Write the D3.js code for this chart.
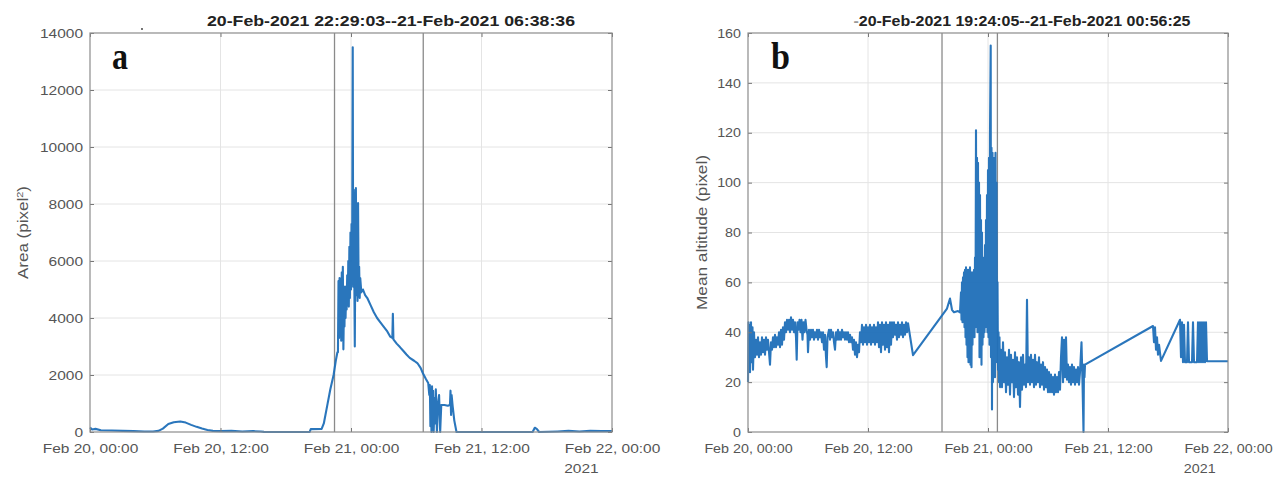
<!DOCTYPE html>
<html>
<head>
<meta charset="utf-8">
<script src="https://cdn.jsdelivr.net/npm/d3@7"></script>
<style>
  body { margin: 0; background: #fff; }
  text { font-family: "Liberation Sans", Arial, sans-serif; }
</style>
</head>
<body>
<svg id="chart" width="1285" height="477"></svg>
<script>
// ---- data (time in hours from 20 Feb 2021 00:00) ----
const hourTicks = [0, 12, 24, 36, 48];
const tickLabels = ["Feb 20, 00:00", "Feb 20, 12:00", "Feb 21, 00:00", "Feb 21, 12:00", "Feb 22, 00:00"];
const yearLabel = "2021";

const areaTicks = [0, 2000, 4000, 6000, 8000, 10000, 12000, 14000];
const altitudeTicks = [0, 20, 40, 60, 80, 100, 120, 140, 160];

// event windows: 20-Feb 22:29:03 -> 21-Feb 06:38:36, and 20-Feb 19:24:05 -> 21-Feb 00:56:25
const areaWindow = [22.4842, 30.6433];
const altitudeWindow = [19.4014, 24.9403];

const areaTitle = "20-Feb-2021 22:29:03--21-Feb-2021 06:38:36";
const altitudeTitle = "20-Feb-2021 19:24:05--21-Feb-2021 00:56:25";

// cloud area, pixel^2
const areaSeries = [
  [0,160],[0.2,90],[0.5,110],[1,60],[2,50],[3,40],[4,30],[5,20],[5.8,20],[6.3,40],[6.7,120],
  [7.2,280],[7.7,340],[8.3,370],[8.8,330],[9.3,250],[9.8,180],[10.3,120],[10.8,70],[11.3,40],
  [12,30],[13,40],[14,20],[15,30],[15.7,20],[16,5],[17,0],[18,0],[19,0],[20.2,5],[20.3,100],
  [21.3,110],[21.5,300],[21.8,900],[22.1,1500],[22.4,2000],[22.6,2500],[22.75,2800],
  [22.8,2800],[22.85,5300],[22.9,3300],[22.95,5400],[23.0,3600],[23.05,4900],[23.1,3200],
  [23.15,5600],[23.2,4200],[23.25,5800],[23.3,2900],[23.35,4400],[23.4,3700],[23.45,5100],
  [23.5,4000],[23.55,4800],[23.6,4300],[23.65,5500],[23.7,4600],[23.75,6000],[23.8,4400],
  [23.85,6500],[23.9,4700],[23.95,7000],[24.0,5000],[24.05,7300],[24.1,5200],[24.16,13500],
  [24.2,5100],[24.25,8500],[24.3,5600],[24.35,3000],[24.4,6500],[24.45,8560],[24.5,4800],
  [24.55,7000],[24.6,4600],[24.65,8030],[24.7,5000],[24.75,5800],[24.8,4700],[24.85,5400],
  [24.95,4900],[25.1,5000],[25.3,4800],[25.5,4700],[25.8,4450],[26.1,4200],[26.4,4000],
  [26.7,3850],[27.0,3700],[27.3,3550],[27.6,3350],[27.8,3300],[27.85,4150],[27.9,3250],
  [28.2,3100],[28.5,2980],[28.8,2850],[29.1,2720],[29.4,2600],[29.8,2500],[30.1,2420],
  [30.4,2250],[30.6,2070],[30.9,1850],[31.1,1720],[31.2,1300],[31.25,1650],[31.3,200],
  [31.35,1500],[31.4,0],[31.45,1600],[31.5,800],[31.55,1450],[31.6,0],[31.7,1200],[31.75,300],
  [31.8,1500],[31.9,0],[32.0,1000],[32.1,1300],[32.2,0],[32.3,950],[32.6,950],[32.9,920],
  [33.1,950],[33.15,1450],[33.2,600],[33.25,1300],[33.35,900],[33.5,400],[33.7,0],[35,0],
  [38,0],[40.7,0],[40.9,150],[41.1,100],[41.3,0],[43,20],[44,40],[45,20],[46,40],[47,30],[48,30]
];

// mean altitude, pixel
const altitudeSeries = [
  [0,20],[0.05,44],[0.1,26],[0.15,43],[0.2,24],[0.3,44],[0.35,28],[0.45,42],[0.5,25],[0.6,40],[0.7,30],
  [0.8,37],[0.9,31],[1.0,38],[1.1,30],[1.2,36],[1.3,31],[1.4,38],[1.5,32],[1.6,37],[1.7,31],
  [1.8,38],[1.9,33],[2.0,37],[2.1,32],[2.2,27],[2.3,36],[2.4,33],[2.5,38],[2.6,34],[2.7,39],
  [2.8,34],[2.9,38],[3.0,35],[3.1,40],[3.2,34],[3.3,41],[3.4,35],[3.5,42],[3.6,37],[3.7,44],
  [3.8,40],[3.9,45],[4.0,41],[4.1,45],[4.2,40],[4.3,46],[4.4,41],[4.5,45],[4.6,40],[4.7,44],
  [4.8,38],[4.87,29],[4.95,44],[5.05,41],[5.15,45],[5.25,40],[5.35,45],[5.45,37],[5.55,44],
  [5.65,40],[5.75,45],[5.85,41],[5.95,39],[6.0,32],[6.1,41],[6.2,37],[6.3,41],[6.4,38],[6.5,41],
  [6.6,37],[6.7,40],[6.8,38],[6.9,41],[7.0,37],[7.1,41],[7.2,38],[7.3,40],[7.4,36],[7.5,40],
  [7.6,33],[7.7,39],[7.8,30],[7.87,26],[7.95,38],[8.1,41],[8.2,37],[8.3,41],[8.4,38],[8.5,40],
  [8.6,36],[8.7,33],[8.8,40],[8.9,37],[9.0,41],[9.1,37],[9.2,40],[9.3,37],[9.4,41],[9.5,38],
  [9.6,40],[9.7,37],[9.8,40],[9.9,37],[10.0,40],[10.1,36],[10.2,39],[10.3,36],[10.4,38],
  [10.5,33],[10.6,37],[10.7,31],[10.8,36],[10.9,30],[11.0,35],[11.1,32],[11.2,40],[11.3,36],
  [11.4,43],[11.5,35],[11.6,42],[11.7,36],[11.8,43],[11.9,35],[12.0,42],[12.1,36],[12.2,43],
  [12.3,35],[12.4,42],[12.5,36],[12.6,43],[12.7,35],[12.8,42],[12.9,36],[13.0,44],[13.1,34],
  [13.2,43],[13.3,32],[13.4,44],[13.5,35],[13.6,43],[13.7,33],[13.8,44],[13.9,34],[14.0,43],
  [14.1,32],[14.2,44],[14.3,35],[14.4,44],[14.5,38],[14.6,44],[14.7,39],[14.8,43],[14.9,37],
  [15.0,44],[15.1,38],[15.2,43],[15.3,39],[15.4,44],[15.5,38],[15.6,43],[15.7,39],[15.8,44],
  [15.9,40],[16.0,43.6],[16.5,30.8],[19.9,49.5],[20.2,53.5],[20.4,49],[20.6,48],[21.0,48.5],
  [21.2,48],[21.3,56],[21.35,45],[21.4,60],[21.45,44],[21.5,62],[21.55,47],[21.6,64],[21.65,42],
  [21.7,65],[21.75,38],[21.8,66],[21.85,35],[21.9,62],[21.95,30],[22.0,65],[22.05,28],[22.1,60],
  [22.15,33],[22.2,66],[22.25,27],[22.3,58],[22.35,26],[22.4,64],[22.45,35],[22.5,60],[22.55,40],
  [22.6,65],[22.65,38],[22.7,70],[22.75,42],[22.8,121],[22.85,45],[22.9,110],[22.95,40],
  [23.0,108],[23.05,45],[23.1,100],[23.15,30],[23.2,95],[23.25,40],[23.3,85],[23.35,27],
  [23.4,80],[23.45,35],[23.5,70],[23.55,38],[23.6,65],[23.65,40],[23.7,75],[23.75,42],[23.8,85],
  [23.85,45],[23.9,95],[23.95,40],[24.0,105],[24.05,38],[24.1,110],[24.15,35],[24.2,120],
  [24.27,155],[24.3,30],[24.35,114],[24.4,9],[24.45,112],[24.5,20],[24.55,110],[24.6,25],
  [24.65,105],[24.7,22],[24.75,112],[24.8,28],[24.85,100],[24.9,30],[24.95,60],[25.0,25],
  [25.05,40],[25.1,20],[25.15,38],[25.2,18],[25.3,33],[25.4,18],[25.5,36],[25.6,20],[25.7,32],
  [25.8,16],[25.9,30],[26.0,19],[26.1,33],[26.2,15],[26.3,31],[26.4,20],[26.5,29],[26.6,14],
  [26.7,32],[26.8,18],[26.9,30],[27.0,15],[27.1,28],[27.2,10],[27.3,30],[27.4,17],[27.5,31],
  [27.6,19],[27.7,27],[27.8,18],[27.9,53],[28.0,20],[28.1,30],[28.2,19],[28.3,31],[28.4,20],
  [28.5,29],[28.6,18],[28.7,31],[28.8,19],[28.9,28],[29.0,20],[29.1,30],[29.2,18],[29.3,27],
  [29.4,19],[29.5,28],[29.6,17],[29.7,26],[29.8,18],[29.9,25],[30.0,16],[30.1,24],[30.2,16],
  [30.3,23],[30.4,16],[30.5,22],[30.6,15],[30.7,23],[30.8,16],[30.9,22],[31.0,16],[31.1,24],
  [31.2,17],[31.3,30],[31.4,38],[31.5,20],[31.6,37],[31.7,22],[31.8,38],[31.9,21],[32.0,27],
  [32.1,20],[32.2,26],[32.3,19],[32.4,27],[32.5,20],[32.6,26],[32.7,19],[32.8,25],[32.9,20],
  [33.0,26],[33.1,19],[33.2,24],[33.35,36],[33.45,20],[33.55,0],[33.6,27],[33.65,22],[33.7,27],
  [40.5,42.5],[40.6,36],[40.7,42],[40.8,33],[40.9,38],[41.0,31],[41.1,35],[41.3,28.5],
  [43.2,45],[43.3,30],[43.4,44],[43.5,28],[43.6,43],[43.7,28],[43.9,28],[44.0,44],[44.1,28],
  [44.4,28],[44.5,44],[44.6,28],[44.9,28],[45.0,44],[45.1,28],[45.2,44],[45.3,28],[45.4,44],
  [45.5,28],[45.6,44],[45.7,28],[45.8,44],[45.9,28.4],[48,28.4]
];

// ---- layout ----
const panels = [
  { letter: "a", series: areaSeries, yTicks: areaTicks, window: areaWindow, title: areaTitle,
    left: 90, right: 612, top: 33, bottom: 432, stretch: 1.19,
    titleX: 391, titleWidth: 368, yLabelX: 23, yLabelLength: 93, letterX: 112, letterWidth: 16 },
  { letter: "b", series: altitudeSeries, yTicks: altitudeTicks, window: altitudeWindow, title: altitudeTitle,
    left: 748, right: 1228, top: 33, bottom: 432, stretch: 1.10,
    titleX: 1022, titleWidth: 337, yLabelX: 702, yLabelLength: 155, letterX: 771, letterWidth: 19 }
];

const lineColor = "#1f6fb8";
const gridColor = "#e4e4e4";
const boxColor = "#8c8c8c";
const textColor = "#555";

const svg = d3.select("#chart");

function stretchText(sel, f) {
  sel.each(function () {
    const w = this.getComputedTextLength();
    d3.select(this).attr("textLength", w * f).attr("lengthAdjust", "spacingAndGlyphs");
  });
}

panels.forEach(p => {
  const x = d3.scaleLinear().domain([0, 48]).range([p.left, p.right]);
  const yMax = p.yTicks[p.yTicks.length - 1];
  const y = d3.scaleLinear().domain([0, yMax]).range([p.bottom, p.top]);
  const g = svg.append("g");

  // grid
  g.append("g").selectAll("line").data(hourTicks.slice(1, -1)).join("line")
    .attr("x1", d => x(d)).attr("x2", d => x(d)).attr("y1", p.top).attr("y2", p.bottom)
    .attr("stroke", gridColor).attr("stroke-width", 1);
  g.append("g").selectAll("line").data(p.yTicks.slice(1, -1)).join("line")
    .attr("x1", p.left).attr("x2", p.right).attr("y1", d => y(d)).attr("y2", d => y(d))
    .attr("stroke", gridColor).attr("stroke-width", 1);

  // event window markers
  g.append("g").selectAll("line").data(p.window).join("line")
    .attr("x1", d => x(d)).attr("x2", d => x(d)).attr("y1", p.top).attr("y2", p.bottom)
    .attr("stroke", "#8a8a8a").attr("stroke-width", 1.3);

  // series
  const line = d3.line().x(d => x(d[0])).y(d => y(d[1]));
  g.append("path").datum(p.series).attr("d", line)
    .attr("fill", "none").attr("stroke", lineColor).attr("stroke-width", 2.1)
    .attr("stroke-linejoin", "round").attr("opacity", 0.95);

  // axes (inward ticks on all sides)
  const xAxis = g.append("g").attr("transform", `translate(0,${p.bottom})`)
    .call(d3.axisBottom(x).tickValues(hourTicks).tickFormat((d, i) => tickLabels[i])
      .tickSize(-4).tickPadding(12));
  g.append("g").attr("transform", `translate(0,${p.top})`)
    .call(d3.axisTop(x).tickValues(hourTicks).tickFormat("").tickSize(-4));
  const yAxis = g.append("g").attr("transform", `translate(${p.left},0)`)
    .call(d3.axisLeft(y).tickValues(p.yTicks).tickFormat(d3.format("d")).tickSize(-4).tickPadding(7));
  g.append("g").attr("transform", `translate(${p.right},0)`)
    .call(d3.axisRight(y).tickValues(p.yTicks).tickFormat("").tickSize(-4));
  g.selectAll(".domain").remove();
  g.selectAll(".tick line").attr("stroke", "#777");
  g.selectAll(".tick text").attr("fill", textColor).style("font-size", "13px")
    .style("font-family", '"Liberation Sans", Arial, sans-serif');
  stretchText(xAxis.selectAll(".tick text"), p.stretch);
  stretchText(yAxis.selectAll(".tick text"), p.stretch);

  // box
  g.append("rect").attr("x", p.left).attr("y", p.top)
    .attr("width", p.right - p.left).attr("height", p.bottom - p.top)
    .attr("fill", "none").attr("stroke", boxColor).attr("stroke-width", 1.2);

  // year under the last tick label
  const lastLabel = xAxis.selectAll(".tick text").nodes().pop();
  const lastW = +d3.select(lastLabel).attr("textLength");
  g.append("text").attr("x", x(48) - lastW / 2).attr("y", 473)
    .attr("fill", textColor).style("font-size", "13px").text(yearLabel)
    .call(s => stretchText(s, p.stretch));

  // title
  const t = g.append("text").attr("x", p.titleX).attr("y", 26).attr("text-anchor", "middle")
    .attr("fill", "#222").style("font-size", "14px").style("font-weight", "bold");
  if (p.letter === "b") t.append("tspan").attr("fill", "#999").text("-");
  t.append("tspan").text(p.title);
  t.attr("textLength", p.titleWidth).attr("lengthAdjust", "spacingAndGlyphs");

  // y label
  const yl = g.append("text")
    .attr("transform", `translate(${p.yLabelX},${(p.top + p.bottom) / 2}) rotate(-90)`)
    .attr("text-anchor", "middle").attr("dy", "0.35em")
    .attr("fill", textColor).style("font-size", "14px");
  if (p.letter === "a") {
    yl.append("tspan").text("Area (pixel");
    yl.append("tspan").attr("baseline-shift", "super").style("font-size", "9px").text("2");
    yl.append("tspan").text(")");
  } else {
    yl.text("Mean altitude (pixel)");
  }
  yl.attr("textLength", p.yLabelLength).attr("lengthAdjust", "spacingAndGlyphs");

  // panel letter
  g.append("text").attr("x", p.letterX).attr("y", 69)
    .style("font-family", '"Liberation Serif", "Times New Roman", serif')
    .style("font-weight", "bold").style("font-size", "38px").attr("fill", "#111")
    .attr("textLength", p.letterWidth).attr("lengthAdjust", "spacingAndGlyphs")
    .text(p.letter);
});

// small stray dot above panel a
svg.append("circle").attr("cx", 142).attr("cy", 29).attr("r", 0.9).attr("fill", "#333");
</script>
</body>
</html>
